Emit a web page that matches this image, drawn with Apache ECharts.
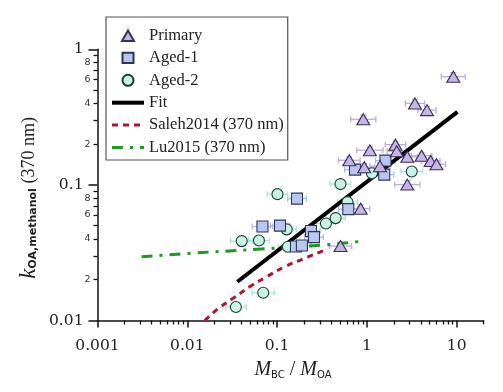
<!DOCTYPE html>
<html><head><meta charset="utf-8">
<script src="https://cdn.jsdelivr.net/npm/echarts@6/dist/echarts.min.js"></script>
<style>html,body{margin:0;padding:0;background:#fff}#c{width:503px;height:392px}</style>
</head><body><div id="c"></div>
<script>
// ---- data ----
const primaryX = [9.17, 3.43, 4.67, 0.912, 1.08, 2.08, 2.15, 2.82, 4.07, 5.13, 5.96, 0.637, 0.935, 1.40, 2.82, 0.853, 0.508];
const primaryY = [0.628, 0.399, 0.356, 0.305, 0.180, 0.198, 0.177, 0.161, 0.164, 0.150, 0.142, 0.152, 0.135, 0.1375, 0.1005, 0.0668, 0.0354];
const primaryXErr = [1.36, 1.28, 1.26, 1.38, 1.40, 1.30, 1.28, 1.29, 1.30, 1.27, 1.26, 1.32, 1.30, 1.29, 1.38, 1.26, 1.33];
const primaryYErr = [1.07, 1.07, 1.06, 1.07, 1.06, 1.06, 1.06, 1.06, 1.06, 1.06, 1.06, 1.06, 1.06, 1.06, 1.07, 1.07, 1.07];

const aged1X = [0.0687, 0.1077, 0.1666, 0.2385, 0.2576, 0.1623, 0.189, 0.621, 0.737, 1.61, 1.56];
const aged1Y = [0.0493, 0.0501, 0.0792, 0.0457, 0.0412, 0.0351, 0.0357, 0.0663, 0.1297, 0.151, 0.119];
const aged1XErr = [1.30, 1.28, 1.27, 1.26, 1.27, 1.28, 1.27, 1.28, 1.30, 1.29, 1.28];
const aged1YErr = [1.05, 1.05, 1.05, 1.05, 1.05, 1.05, 1.05, 1.05, 1.05, 1.05, 1.05];

const aged2X = [0.101, 0.0404, 0.0628, 0.128, 0.132, 0.0701, 0.0348, 0.350, 0.449, 0.608, 0.508, 1.14, 3.16];
const aged2Y = [0.0855, 0.0385, 0.0389, 0.047, 0.035, 0.016, 0.01257, 0.0519, 0.0569, 0.0747, 0.1014, 0.122, 0.1257];
const aged2XErr = [1.30, 1.33, 1.30, 1.28, 1.28, 1.33, 1.30, 1.28, 1.28, 1.30, 1.30, 1.30, 1.32];
const aged2YErr = [1.05, 1.05, 1.05, 1.05, 1.05, 1.05, 1.05, 1.05, 1.05, 1.05, 1.05, 1.05, 1.05];

const fitX = [0.0361, 10.2];
const fitY = [0.0193, 0.346];

const salehX = [0.0157, 0.022, 0.034, 0.05, 0.0765, 0.12, 0.194, 0.341];
const salehY = [0.0100, 0.0122, 0.0149, 0.0178, 0.0210, 0.0248, 0.0284, 0.0331];

const luX = [0.0031, 0.0107, 0.0593, 0.324, 0.928];
const luY = [0.0295, 0.0313, 0.0335, 0.0360, 0.0386];

const seriesNames = ['Primary', 'Aged-1', 'Aged-2', 'Fit', 'Saleh2014 (370 nm)', 'Lu2015 (370 nm)'];

const X_MIN = 0.001, X_MAX = 20, Y_MIN = 0.01, Y_MAX = 1;
const xMajorTicks = [0.001, 0.01, 0.1, 1, 10];
const xMajorLabels = ['0.001', '0.01', '0.1', '1', '10'];
const xMinorTicks = [0.002,0.003,0.004,0.005,0.006,0.007,0.008,0.009,
  0.02,0.03,0.04,0.05,0.06,0.07,0.08,0.09,
  0.2,0.3,0.4,0.5,0.6,0.7,0.8,0.9,
  2,3,4,5,6,7,8,9,
  20];
const yMajorTicks = [0.01, 0.1, 1];
const yMajorLabels = ['0.01', '0.1', '1'];
const yMinorTicks = [0.02,0.03,0.04,0.05,0.06,0.07,0.08,0.09,
  0.2,0.3,0.4,0.5,0.6,0.7,0.8,0.9];
const yMinorLabelTicks = [0.02, 0.04, 0.06, 0.08, 0.2, 0.4, 0.6, 0.8];
const yMinorLabels = ['2', '4', '6', '8', '2', '4', '6', '8'];

// ---- helpers ----
const zip2 = (a, b) => a.map((v, i) => [v, b[i]]);
const zip4 = (a, b, c, d) => a.map((v, i) => [v, b[i], c[i], d[i]]);
const lg = Math.log10;
function lookup(ticks, labels) {
  return v => { const i = ticks.findIndex(t => Math.abs(lg(t) - v) < 1e-6); return i >= 0 ? labels[i] : ''; };
}
function errRender(color) {
  return function (params, api) {
    const x = api.value(0), y = api.value(1), fx = api.value(2), fy = api.value(3);
    const p0 = api.coord([x / fx, y]), p1 = api.coord([x * fx, y]);
    const q0 = api.coord([x, y / fy]), q1 = api.coord([x, y * fy]);
    const c = 3, st = { stroke: color, lineWidth: 1.3 };
    const L = (x1, y1, x2, y2) => ({ type: 'line', shape: { x1, y1, x2, y2 }, style: st });
    return { type: 'group', children: [
      L(p0[0], p0[1], p1[0], p1[1]),
      L(p0[0], p0[1] - c, p0[0], p0[1] + c),
      L(p1[0], p1[1] - c, p1[0], p1[1] + c),
      L(q0[0], q0[1], q1[0], q1[1]),
      L(q0[0] - c, q0[1], q0[0] + c, q0[1]),
      L(q1[0] - c, q1[1], q1[0] + c, q1[1])
    ]};
  };
}

const chart = echarts.init(document.getElementById('c'), null, { renderer: 'canvas' });
const axisBlack = { lineStyle: { color: '#111', width: 1.5 } };
const tickFont = 'DejaVu Serif';
const hiddenSym = { color: 'rgba(0,0,0,0)', borderColor: 'rgba(0,0,0,0)', borderWidth: 0 };
// legend marker glyphs padded to the 32x12 legend box so they keep their shape
const pad = 'M0,0 L0,0 M32,12 L32,12 ';
const legendIcons = [
  'path://' + pad + 'M10,11.5 L16,1 L22,11.5 Z',
  'path://' + pad + 'M10.5,0.8 L21.5,0.8 L21.5,11.2 L10.5,11.2 Z',
  'path://' + pad + 'M10.5,6 A5.5,5.5 0 1 1 21.5,6 A5.5,5.5 0 1 1 10.5,6 Z',
  null, null, null];
const legendLineWidth = [0, 0, 0, 4, 3, 3];

chart.setOption({
  animation: false,
  backgroundColor: '#fff',
  grid: { left: 97.5, right: 19.3, top: 49.3, bottom: 71.5, containLabel: false },
  xAxis: [
    { type: 'log', logBase: 10, min: X_MIN, max: X_MAX, show: false },
    { type: 'value', min: lg(X_MIN), max: lg(X_MAX), position: 'bottom',
      axisLine: { show: true, onZero: false, ...axisBlack },
      axisTick: { show: true, customValues: xMajorTicks.map(lg), length: 7, lineStyle: { color: '#111', width: 1.5 } },
      axisLabel: { show: true, customValues: xMajorTicks.map(lg), formatter: lookup(xMajorTicks, xMajorLabels),
        margin: 17, fontFamily: tickFont, fontSize: 15.5, color: '#222' },
      splitLine: { show: false } },
    { type: 'value', min: lg(X_MIN), max: lg(X_MAX), position: 'bottom',
      axisLine: { show: false, onZero: false },
      axisTick: { show: true, customValues: xMinorTicks.map(lg), length: 4, lineStyle: { color: '#111', width: 1.3 } },
      axisLabel: { show: false },
      splitLine: { show: false } }
  ],
  yAxis: [
    { type: 'log', logBase: 10, min: Y_MIN, max: Y_MAX, show: false },
    { type: 'value', min: lg(Y_MIN), max: lg(Y_MAX), position: 'left',
      axisLine: { show: true, onZero: false, ...axisBlack },
      axisTick: { show: true, customValues: yMajorTicks.map(lg), length: 9, lineStyle: { color: '#111', width: 1.5 } },
      axisLabel: { show: true, customValues: yMajorTicks.map(lg), formatter: lookup(yMajorTicks, yMajorLabels),
        margin: 14, fontFamily: tickFont, fontSize: 15.5, color: '#222' },
      splitLine: { show: false } },
    { type: 'value', min: lg(Y_MIN), max: lg(Y_MAX), position: 'left',
      axisLine: { show: false, onZero: false },
      axisTick: { show: true, customValues: yMinorTicks.map(lg), length: 4, lineStyle: { color: '#111', width: 1.3 } },
      axisLabel: { show: true, customValues: yMinorLabelTicks.map(lg), formatter: lookup(yMinorLabelTicks, yMinorLabels),
        margin: 7, fontFamily: 'DejaVu Sans', fontSize: 9.5, color: '#333' },
      splitLine: { show: false } }
  ],
  legend: {
    orient: 'vertical', left: 106, top: 17, padding: [10, 4, 4, 4],
    borderColor: '#555', borderWidth: 1.2, backgroundColor: '#fff',
    itemWidth: 32, itemHeight: 12, itemGap: 5.4,
    textStyle: { fontFamily: 'Liberation Serif', fontSize: 16.5, color: '#222', lineHeight: 16 },
    data: seriesNames.map((n, i) => legendIcons[i]
      ? { name: n, icon: legendIcons[i] }
      : { name: n, itemStyle: hiddenSym, lineStyle: { width: legendLineWidth[i] } })
  },
  graphic: [
    { type: 'text', x: 293, y: 370, z: 100,
      style: { text: '{i|M}{s|BC}{n| / }{i|M}{s|OA}', align: 'center', verticalAlign: 'middle', fill: '#222',
        rich: {
          i: { fontFamily: 'Liberation Serif', fontStyle: 'italic', fontSize: 20, lineHeight: 20, verticalAlign: 'top', fill: '#222' },
          n: { fontFamily: 'Liberation Serif', fontSize: 20, lineHeight: 20, verticalAlign: 'top', fill: '#222' },
          s: { fontFamily: 'DejaVu Sans', fontSize: 10, lineHeight: 8, verticalAlign: 'bottom', fill: '#222' }
        } } },
    { type: 'text', x: 28, y: 198, rotation: Math.PI / 2, z: 100,
      style: { text: '{i|k}{s|OA,methanol}{n| (370 nm)}', align: 'center', verticalAlign: 'middle', fill: '#222',
        rich: {
          i: { fontFamily: 'Liberation Serif', fontStyle: 'italic', fontSize: 23, lineHeight: 21, verticalAlign: 'top', fill: '#222' },
          n: { fontFamily: 'Liberation Serif', fontSize: 18, lineHeight: 21, verticalAlign: 'top', fill: '#222', padding: [3, 0, 0, 0] },
          s: { fontFamily: 'DejaVu Sans', fontWeight: 'bold', fontSize: 11, lineHeight: 9, verticalAlign: 'bottom', fill: '#222' }
        } } }
  ],
  series: [
    { name: 'Primary err', type: 'custom', xAxisIndex: 0, yAxisIndex: 0, z: 2, silent: true,
      renderItem: errRender('#bcaee0'), data: zip4(primaryX, primaryY, primaryXErr, primaryYErr), encode: { x: 0, y: 1 } },
    { name: 'Aged-1 err', type: 'custom', xAxisIndex: 0, yAxisIndex: 0, z: 2, silent: true,
      renderItem: errRender('#adbce7'), data: zip4(aged1X, aged1Y, aged1XErr, aged1YErr), encode: { x: 0, y: 1 } },
    { name: 'Aged-2 err', type: 'custom', xAxisIndex: 0, yAxisIndex: 0, z: 2, silent: true,
      renderItem: errRender('#a8e7cf'), data: zip4(aged2X, aged2Y, aged2XErr, aged2YErr), encode: { x: 0, y: 1 } },
    { name: 'Fit', type: 'line', xAxisIndex: 0, yAxisIndex: 0, z: 3, symbol: 'none',
      lineStyle: { color: '#000', width: 4 }, itemStyle: { color: '#000' }, data: zip2(fitX, fitY) },
    { name: 'Saleh2014 (370 nm)', type: 'line', xAxisIndex: 0, yAxisIndex: 0, z: 3, symbol: 'none', smooth: true,
      lineStyle: { color: '#ad1530', width: 3, type: [6, 5] }, itemStyle: { color: '#ad1530' }, data: zip2(salehX, salehY) },
    { name: 'Lu2015 (370 nm)', type: 'line', xAxisIndex: 0, yAxisIndex: 0, z: 3, symbol: 'none', smooth: true,
      lineStyle: { color: '#1f9a1f', width: 3, type: [11, 7, 3, 7] }, itemStyle: { color: '#1f9a1f' }, data: zip2(luX, luY) },
    { name: 'Aged-2', type: 'scatter', xAxisIndex: 0, yAxisIndex: 0, z: 4, symbol: 'circle', symbolSize: 11,
      itemStyle: { color: '#c8f3e2', borderColor: '#1d3f35', borderWidth: 1.1, opacity: 1 }, data: zip2(aged2X, aged2Y) },
    { name: 'Aged-1', type: 'scatter', xAxisIndex: 0, yAxisIndex: 0, z: 4, symbol: 'rect', symbolSize: 11,
      itemStyle: { color: '#b9c7f0', borderColor: '#2c3858', borderWidth: 1.1, opacity: 1 }, data: zip2(aged1X, aged1Y) },
    { name: 'Primary', type: 'scatter', xAxisIndex: 0, yAxisIndex: 0, z: 4, symbol: 'triangle', symbolSize: [13, 11],
      itemStyle: { color: '#c6b6e7', borderColor: '#3a2e5c', borderWidth: 1.1, opacity: 1 }, data: zip2(primaryX, primaryY) }
  ]
});
</script></body></html>
